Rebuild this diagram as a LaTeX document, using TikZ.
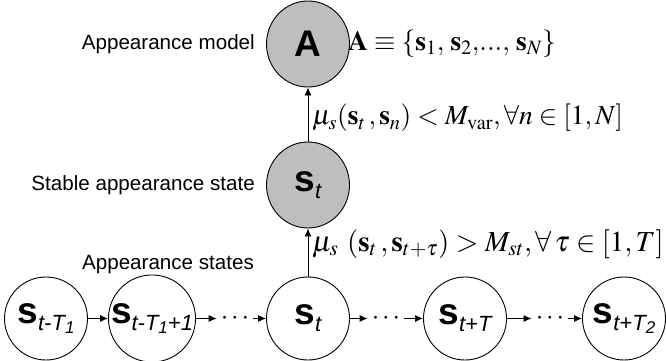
\documentclass[tikz,border=0pt]{standalone}
\usepackage{mathptmx}
\usepackage[no-math]{fontspec}
\setsansfont{Liberation Sans}
\usetikzlibrary{arrows.meta,shapes.geometric}
\definecolor{nodegray}{RGB}{190,190,193}
\newcommand{\bigS}{{\fontsize{37}{37}\selectfont\sffamily\bfseries s}}
\newcommand{\subA}[1]{\raisebox{-7pt}{\fontsize{22}{22}\selectfont\sffamily\itshape #1}}
\newcommand{\subB}[1]{\raisebox{-10pt}{\fontsize{17}{17}\selectfont\sffamily\itshape #1}}
\tikzset{
  upper/.style={ellipse, draw, line width=0.9pt, fill=nodegray, minimum width=83pt, minimum height=86pt, inner sep=0pt, font=\sffamily},
  state/.style={circle, draw, line width=0.9pt, minimum size=83pt, inner sep=0pt, font=\sffamily},
  conn/.style={line width=0.9pt, -{Latex[length=8pt,width=7pt]}},
  lab/.style={font=\sffamily\fontsize{20.6}{22}\selectfont, inner sep=0pt},
  mlab/.style={font=\fontsize{27.5}{30}\selectfont, inner sep=0pt},
  mlabb/.style={font=\fontsize{29}{31}\selectfont, inner sep=0pt},
  dotsnode/.style={inner xsep=4pt, inner ysep=0pt, font=\fontsize{27}{27}\selectfont},
}
\begin{document}
\begin{tikzpicture}[x=1pt,y=-1pt]
\useasboundingbox (0,0) rectangle (666,361);
% upper nodes
\node[upper] (A) at (308,44) {\fontsize{37}{37}\selectfont\sffamily\bfseries A};
\node[upper] (S) at (308,185) {\bigS\subA{t}};
% bottom states
\node[state] (c1) at (46,318.5) {\bigS\subA{t-T}\subB{1}};
\node[state] (c2) at (152,318.5) {\bigS\subA{t-T}\subB{1}\subA{+1}};
\node[state] (c3) at (308,318.5) {\bigS\subA{t}};
\node[state] (c4) at (465,318.5) {\bigS\subA{t+T}};
\node[state] (c5) at (624,318.5) {\bigS\subA{t+T}\subB{2}};
% dots
\node[dotsnode] (d1) at (235,318.5) {$\cdots$};
\node[dotsnode] (d2) at (386,318.5) {$\cdots$};
\node[dotsnode] (d3) at (550,318.5) {$\cdots$};
% connectors
\draw[conn] (c1) -- (c2);
\draw[conn] (c2) -- (d1);
\draw[conn] (d1) -- (c3);
\draw[conn] (c3) -- (d2);
\draw[conn] (d2) -- (c4);
\draw[conn] (c4) -- (d3);
\draw[conn] (d3) -- (c5);
\draw[conn] (c3) -- (S);
\draw[conn] (S) -- (A);
% labels
\node[lab, anchor=east] (lA) at (255,44) {Appearance model};
\node[lab, anchor=east] (lS) at (255,185) {Stable appearance state};
\node[lab] (lC) at (168,265) {Appearance states};
\node[mlab, anchor=west] (mA) at (348,44) {$\mathbf{A}\equiv\{\mathbf{s}_1,\,\mathbf{s}_2,\!...,\,\mathbf{s}_N\}$};
\node[mlab, anchor=west] (m1) at (312,118) {$\mu_s(\mathbf{s}_t\,,\mathbf{s}_n) < M_{\mathrm{var}},\forall n\in[1,N]$};
\node[mlabb, anchor=west] (m2) at (312,244) {$\mu_s\ (\mathbf{s}_t\,,\mathbf{s}_{t+\tau}) > M_{st},\forall\,\tau\in[1,T]$};
\end{tikzpicture}
\end{document}
